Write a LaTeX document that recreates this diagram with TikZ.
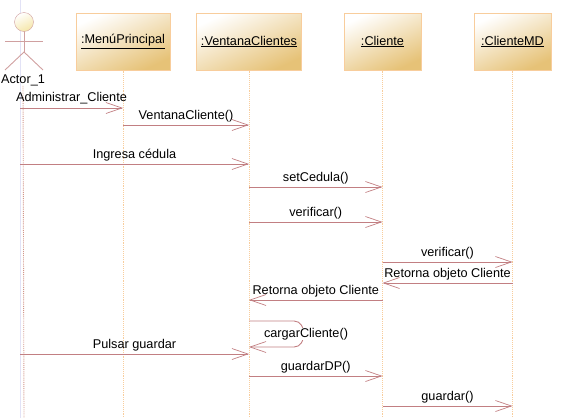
\documentclass[tikz,border=0pt]{standalone}
\usepackage{xcolor}
\usepackage{fontspec}
\setmainfont{Liberation Sans}
\usetikzlibrary{arrows.meta, positioning, calc}
\definecolor{edgeorange}{HTML}{F8CD9C}
\definecolor{boxtan}{HTML}{E6C277}
\definecolor{msgred}{HTML}{C27F82}
\definecolor{actorline}{HTML}{D0A0A0}
\definecolor{headfill}{HTML}{F5E6A8}
\definecolor{guide}{HTML}{E2E2F6}
\tikzset{
    classbox/.style={
        rectangle, draw=edgeorange, line width=1pt,
        left color=white, right color=boxtan, shading angle=25,
        inner sep=0pt, font=\fontsize{12.7}{15}\selectfont
    },
    lifeline/.style={draw=edgeorange, densely dotted, line width=0.9pt},
    msg/.style={draw=msgred, line width=0.9pt, -{Straight Barb[length=16pt,width=11pt,line width=0.7pt]}},
    msglabel/.style={font=\fontsize{12.7}{15}\selectfont, text=black, inner sep=0pt},
    limb/.style={draw=actorline, line width=0.9pt}
}
\begin{document}
\begin{tikzpicture}[x=1pt, y=-1pt]
    \useasboundingbox (0,0) rectangle (567,418);
    % Guide at the left
    \coordinate (guidetop) at (20, 0);
    \coordinate (guideend) at (20, 418);
    \draw [guide, line width=0.8pt] (guidetop) -- (guideend);
    % Objects
    \node [classbox, minimum width=94pt, minimum height=57pt] (menu) at (123, 41.5) {\underline{:MenúPrincipal}};
    \node [classbox, minimum width=105pt, minimum height=57pt] (ventana) at (249, 41.5) {\underline{:VentanaClientes}};
    \node [classbox, minimum width=77pt, minimum height=57pt] (cliente) at (382.5, 41.5) {\underline{:Cliente}};
    \node [classbox, minimum width=77pt, minimum height=57pt] (clientemd) at (512.5, 41.5) {\underline{:ClienteMD}};
    % Actor
    \coordinate (hip) at (24, 52);
    \coordinate (armleft) at (5, 41);
    \coordinate (armright) at (43, 41);
    \coordinate (footleft) at (5, 70);
    \coordinate (footright) at (43, 70);
    \node [msglabel] (actor) at (23, 80) {Actor\_1};
    \draw [limb] (24, 30) -- (hip);
    \draw [limb] (armleft) -- (armright);
    \draw [limb] (footleft) -- (hip) -- (footright);
    \node [circle, draw=actorline, left color=white, right color=headfill, shading angle=25, minimum size=19pt, inner sep=0pt] (head) at (24, 22) {};

    % Lifelines
    \foreach \obj/\name in {menu/m, ventana/v, cliente/c, clientemd/d} {
        \coordinate (\name end) at (\obj.center |- 0, 418);
        \draw [lifeline] (\obj) -- (\name end);
    }
    \coordinate (a end) at (24, 418);
    \draw [lifeline, draw=msgred!70!edgeorange] (actor) -- (a end);

    % Flows
    \draw [msg] (guidetop |- 0, 108) coordinate (s1) -- (s1 -| menu) node [msglabel, midway, above=4pt] (l1) {Administrar\_Cliente};
    \draw [msg] (menu |- 0, 125) -- (ventana |- 0, 125) node [msglabel, midway, above=2.5pt] (l2) {VentanaCliente()};
    \draw [msg] (guidetop |- 0, 164) coordinate (s3) -- (s3 -| ventana) node [msglabel, midway, above=2.5pt] (l3) {Ingresa cédula};
    \draw [msg] (ventana |- 0, 187) -- (cliente |- 0, 187) node [msglabel, midway, above=2.5pt] (l4) {setCedula()};
    \draw [msg] (ventana |- 0, 222) -- (cliente |- 0, 222) node [msglabel, midway, above=2.5pt] (l5) {verificar()};
    \draw [msg] (cliente |- 0, 262) -- (clientemd |- 0, 262) node [msglabel, midway, above=2.5pt] (l6) {verificar()};
    \draw [msg] (clientemd |- 0, 283) -- (cliente |- 0, 283) node [msglabel, midway, above=2.5pt] (l7) {Retorna objeto Cliente};
    \draw [msg] (cliente |- 0, 300) -- (ventana |- 0, 300) node [msglabel, midway, above=2.5pt] (l8) {Retorna objeto Cliente};
    \draw [msg] (ventana |- 0, 321) -- ++(45, 0) to [out=0, in=0, looseness=1.3] ++(0, 26) -- (ventana |- 0, 347);
    \node [msglabel, fill=white] (l9) at (306, 334) {cargarCliente()};
    \draw [msg] (guidetop |- 0, 354) coordinate (s10) -- (s10 -| ventana) node [msglabel, midway, above=2.5pt] (l10) {Pulsar guardar};
    \draw [msg] (ventana |- 0, 376) -- (cliente |- 0, 376) node [msglabel, midway, above=2.5pt] (l11) {guardarDP()};
    \draw [msg] (cliente |- 0, 406) -- (clientemd |- 0, 406) node [msglabel, midway, above=2.5pt] (l12) {guardar()};
\end{tikzpicture}
\end{document}
